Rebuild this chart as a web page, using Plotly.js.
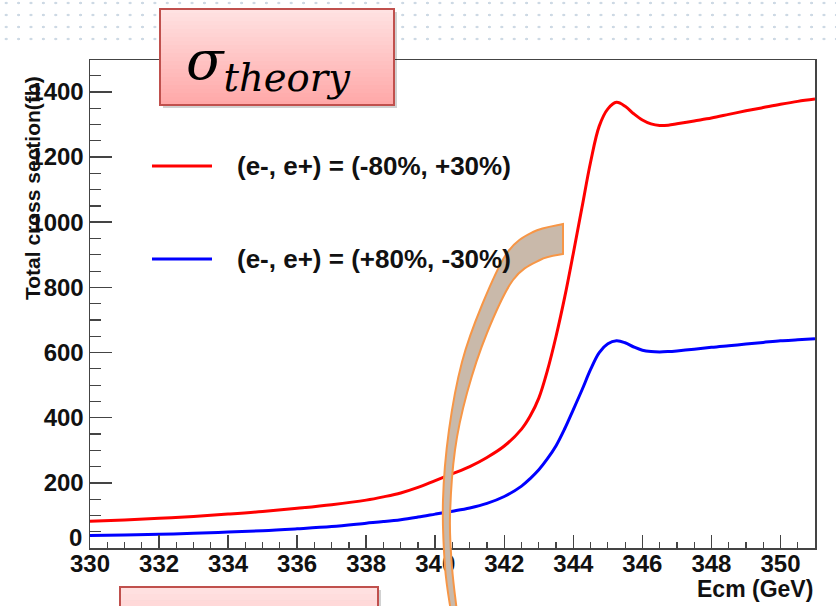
<!DOCTYPE html>
<html>
<head>
<meta charset="utf-8">
<script src="https://cdn.plot.ly/plotly-3.0.1.min.js"></script>
<style>
  html, body { margin:0; padding:0; background:#ffffff; }
  #wrap { position:relative; width:836px; height:606px; overflow:hidden; background:#ffffff; }
  #dots { position:absolute; left:0; top:0; width:836px; height:46px;
          background-image: radial-gradient(circle, #cdd9e4 1.1px, rgba(255,255,255,0) 1.6px);
          background-size: 12.4px 12px; background-position: 0px 9px; }
  #chart { position:absolute; left:0; top:0; width:836px; height:606px; }
</style>
</head>
<body>
<div id="wrap"><div id="dots"></div><div id="chart"></div></div>
<script>
// ---- data ----
const energy = [330,331,332,333,334,335,336,337,338,338.5,339,339.5,340,340.5,341,341.5,342,342.5,342.75,343,343.25,343.5,343.75,344,344.25,344.5,344.75,345,345.25,345.5,345.75,346,346.25,346.5,346.75,347,347.5,348,348.5,349,349.5,350,350.5,351];
const sigmaMinus80Plus30 = [82,86,91,97,104,112,122,133,147,157,169,186,207,228,250,278,313,365,405,460,545,650,770,905,1045,1185,1295,1348,1368,1356,1333,1314,1302,1297,1298,1302,1311,1320,1331,1342,1352,1362,1371,1378];
const sigmaPlus80Minus30 = [38,40,42,45,49,53,59,66,76,81,87,95,104,113,123,137,158,190,213,240,274,314,366,425,485,548,600,627,636,630,617,607,603,602,603,605,610,616,621,626,631,636,639,642];
const seriesNames = ["(e-, e+) = (-80%, +30%)", "(e-, e+) = (+80%, -30%)"];
const seriesColors = ["#ff0000", "#0000ff"];
const yTickVals = [0,200,400,600,800,1000,1200,1400];
const xTickVals = [330,332,334,336,338,340,342,344,346,348,350];
const xTitle = "Ecm (GeV)";
const yTitle = "Total cross section(fb)";

// ---- geometry helpers (pixel -> paper) ----
const L = 90, R = 815, T = 60, B = 548;
const px = x => (x - L) / (R - L);
const py = y => (B - y) / (B - T);

const traces = [
  {x: energy, y: sigmaMinus80Plus30, mode:'lines', line:{color:seriesColors[0], width:3, shape:'spline', smoothing:1}, name:seriesNames[0], showlegend:false, hoverinfo:'skip'},
  {x: energy, y: sigmaPlus80Minus30, mode:'lines', line:{color:seriesColors[1], width:3, shape:'spline', smoothing:1}, name:seriesNames[1], showlegend:false, hoverinfo:'skip'}
];

const shapes = [];
const annotations = [];
const font = "'Liberation Sans', Arial, Helvetica, sans-serif";

// legend (custom, ROOT style)
[[166, 0], [259, 1]].forEach(([yy, i]) => {
  shapes.push({type:'line', xref:'paper', yref:'paper', x0:px(152), x1:px(212), y0:py(yy), y1:py(yy), line:{color:seriesColors[i], width:3}});
  annotations.push({xref:'paper', yref:'paper', x:px(235), y:py(yy), xanchor:'left', yanchor:'middle', showarrow:false,
    text:seriesNames[i], font:{family:font, size:26, color:'#111', weight:'bold'}});
});

// axis titles
annotations.push({xref:'paper', yref:'paper', x:px(32), y:py(188), xanchor:'center', yanchor:'middle', showarrow:false, textangle:-90,
  text:yTitle, font:{family:font, size:21, color:'#111', weight:'bold'}});
annotations.push({xref:'paper', yref:'paper', x:px(815), y:py(589), xanchor:'right', yanchor:'middle', showarrow:false,
  text:xTitle, font:{family:font, size:23, color:'#111', weight:'bold'}});
// the "0" label sits slightly raised in the original
annotations.push({xref:'paper', yref:'paper', x:px(84), y:py(537), xanchor:'right', yanchor:'middle', showarrow:false,
  text:String(yTickVals[0]), font:{family:font, size:24, color:'#111', weight:'bold'}});

// pink gradient box helper
function pinkBox(x0, y0, x1, y1, cTop, cBot, n) {
  shapes.push({type:'rect', xref:'paper', yref:'paper', x0:px(x0+3), x1:px(x1+3), y0:py(y0+3), y1:py(y1+3), fillcolor:'rgba(0,0,0,0.18)', line:{width:0}, layer:'above'});
  const h = (y1 - y0) / n;
  for (let i = 0; i < n; i++) {
    const t = i / (n - 1);
    const c = cTop.map((v, k) => Math.round(v + (cBot[k] - v) * t));
    shapes.push({type:'rect', xref:'paper', yref:'paper', x0:px(x0), x1:px(x1), y0:py(y0 + i*h), y1:py(y0 + (i+1)*h + 0.5),
      fillcolor:`rgb(${c[0]},${c[1]},${c[2]})`, line:{width:0}, layer:'above'});
  }
  shapes.push({type:'rect', xref:'paper', yref:'paper', x0:px(x0), x1:px(x1), y0:py(y0), y1:py(y1), line:{color:'#c0504d', width:2}, layer:'above'});
}
pinkBox(160, 9, 394, 105, [255,226,226], [255,168,168], 24);
pinkBox(120, 587, 378, 640, [255,224,224], [255,200,200], 8);

annotations.push({xref:'paper', yref:'paper', x:px(268), y:py(64), xanchor:'center', yanchor:'middle', showarrow:false,
  text:"<i>σ</i><sub><i>theory</i></sub>", font:{family:"'DejaVu Serif', 'Liberation Serif', serif", size:55, color:'#000'}});

// curved arrow overlay
function smooth(pts) {
  let d = '';
  for (let i = 0; i < pts.length - 1; i++) {
    const p0 = pts[Math.max(0, i-1)], p1 = pts[i], p2 = pts[i+1], p3 = pts[Math.min(pts.length-1, i+2)];
    const c1 = [p1[0] + (p2[0]-p0[0])/6, p1[1] + (p2[1]-p0[1])/6];
    const c2 = [p2[0] - (p3[0]-p1[0])/6, p2[1] - (p3[1]-p1[1])/6];
    d += ` C ${px(c1[0])},${py(c1[1])} ${px(c2[0])},${py(c2[1])} ${px(p2[0])},${py(p2[1])}`;
  }
  return d;
}
const outer = [[563,224],[533,232],[507,253],[482,305],[462,362],[449,430],[443,500],[445,567],[451,612]];
const inner = [[457,612],[452,567],[450,517],[455,450],[467,393],[487,333],[513,280],[540,260],[563,254]];
const arrowPath = `M ${px(outer[0][0])},${py(outer[0][1])}` + smooth(outer) +
  ` L ${px(inner[0][0])},${py(inner[0][1])}` + smooth(inner) + ' Z';
shapes.push({type:'path', xref:'paper', yref:'paper', path:arrowPath, fillcolor:'#c9b9aa', line:{color:'#f79646', width:2}, layer:'above'});

const axisCommon = {
  showgrid:false, zeroline:false, showline:true, linecolor:'#444', linewidth:1.5, mirror:true,
  ticks:'inside', tickcolor:'#444', tickwidth:1.5,
  tickfont:{family:font, size:24, color:'#111', weight:'bold'}
};

const layout = {
  width:836, height:606,
  margin:{l:L, r:836-R, t:T, b:606-B, pad:0},
  paper_bgcolor:'rgba(0,0,0,0)', plot_bgcolor:'#ffffff',
  showlegend:false,
  xaxis: Object.assign({}, axisCommon, {range:[330, 351], tickvals:xTickVals, ticklen:13,
    minor:{dtick:0.5, ticks:'inside', ticklen:6, tickcolor:'#444', tickwidth:1.2}, ticklabelstandoff:-6}),
  yaxis: Object.assign({}, axisCommon, {range:[0, 1498], tickvals:yTickVals.slice(1), ticklen:22,
    minor:{dtick:50, ticks:'inside', ticklen:11, tickcolor:'#444', tickwidth:1.2}, ticklabelstandoff:0}),
  shapes: shapes,
  annotations: annotations
};

Plotly.newPlot('chart', traces, layout, {staticPlot:true, displayModeBar:false});
</script>
</body>
</html>
